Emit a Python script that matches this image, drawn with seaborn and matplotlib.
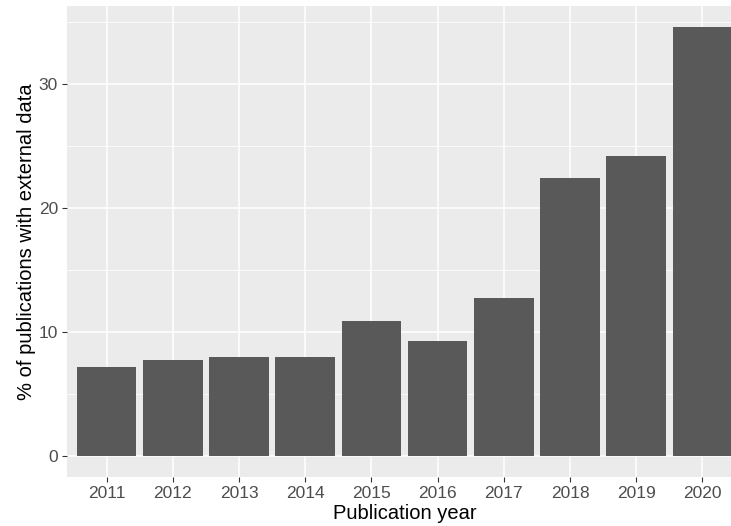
import matplotlib
matplotlib.use("Agg")
import matplotlib.pyplot as plt
import matplotlib.ticker as mticker
import seaborn as sns
import pandas as pd

# ── Data ─────────────────────────────────────────────────────────────────────
years = ["2011", "2012", "2013", "2014", "2015", "2016", "2017", "2018", "2019", "2020"]
pct_external = [7.18, 7.74, 7.98, 7.98, 10.89, 9.27, 12.74, 22.40, 24.19, 34.57]

df = pd.DataFrame({"year": years, "pct": pct_external})

# ── Style (ggplot2 theme_grey look) ──────────────────────────────────────────
sns.set_theme(style="darkgrid", rc={
    "axes.facecolor": "#EBEBEB",
    "grid.color": "white",
    "axes.edgecolor": "#EBEBEB",
})
plt.rcParams["font.family"] = ["Liberation Sans", "DejaVu Sans"]

fig = plt.figure(figsize=(7.31, 5.26), dpi=100)
ax = fig.add_axes([67 / 731, 49 / 526, 675 / 731, 471 / 526])

sns.barplot(data=df, x="year", y="pct", color="#595959", saturation=1,
            width=0.9, linewidth=0, edgecolor="none", ax=ax, zorder=3)

ax.set_xlim(-0.6, 9.6)
ax.set_ylim(-1.69, 36.3)
ax.yaxis.set_major_locator(mticker.FixedLocator([0, 10, 20, 30]))
ax.yaxis.set_minor_locator(mticker.FixedLocator([5, 15, 25, 35]))
ax.grid(which="major", color="white", linewidth=1.1, zorder=0)
ax.grid(which="minor", axis="y", color="white", linewidth=0.55, zorder=0)
ax.set_axisbelow(True)
for s in ax.spines.values():
    s.set_visible(False)

ax.tick_params(axis="both", which="major", length=3.5, width=0.8, color="#333333",
               labelsize=12.5, labelcolor="#4D4D4D", pad=3, bottom=True, left=True)
ax.tick_params(axis="both", which="minor", length=0)

ax.set_xlabel("Publication year", fontsize=14.5, color="black", labelpad=2)
ax.set_ylabel("% of publications with external data", fontsize=14.5, color="black", labelpad=2)

fig.savefig("out.png", dpi=100)
plt.close()
